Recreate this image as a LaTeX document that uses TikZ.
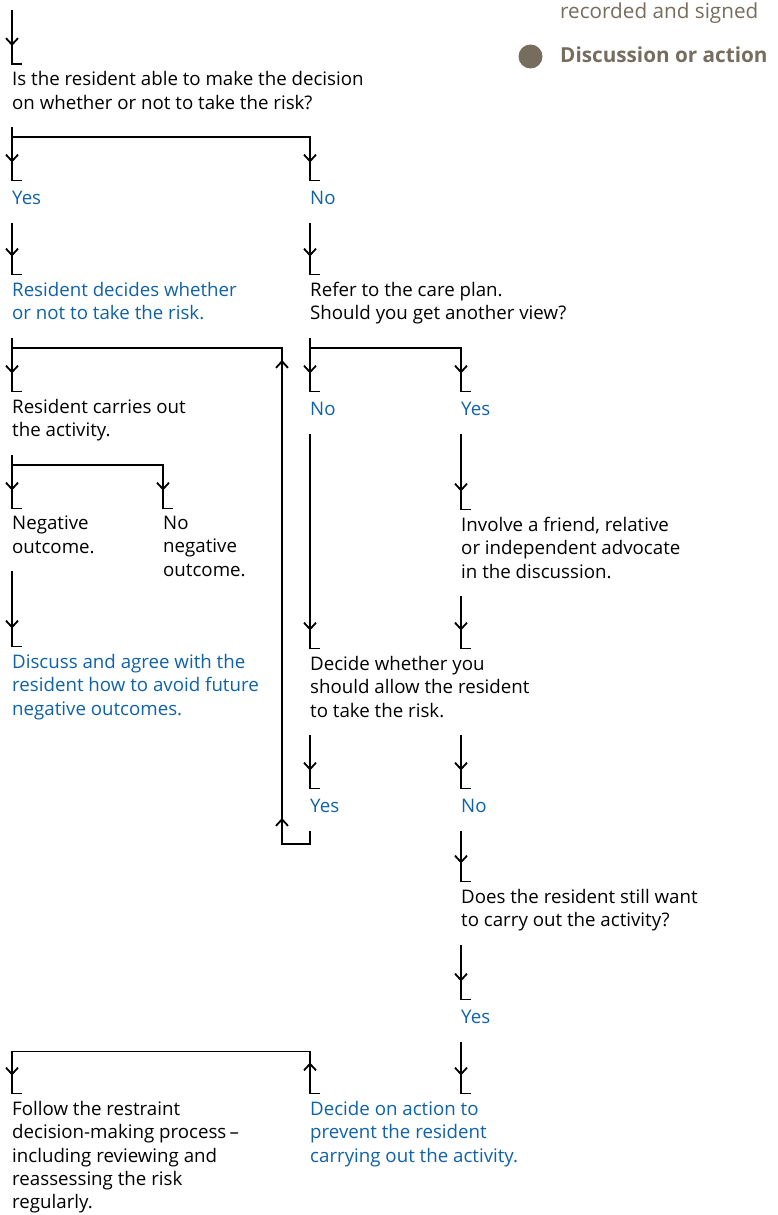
\documentclass[tikz,border=0pt]{standalone}
\usepackage{fontspec}
\setmainfont{Open Sans}
\usetikzlibrary{arrows.meta,decorations.markings}
\definecolor{stepblue}{RGB}{16,98,166}
\definecolor{keygrey}{RGB}{119,109,94}
\tikzset{
  txt/.style={anchor=north west, inner sep=0pt, align=left,
    font=\fontsize{18.7}{23.3}\selectfont,
    execute at begin node=\strut, execute at end node=\strut},
  act/.style={txt, text=stepblue},
  conn/.style={line width=1.8pt},
  barb/.style={postaction={decorate, decoration={markings,
    mark=at position #1 with {\arrow{Straight Barb[length=6.5pt,width=12pt]}}}}},
  barb/.default=-28pt
}
\begin{document}
\begin{tikzpicture}[x=1pt,y=-1pt]
\useasboundingbox (0,0) rectangle (778,1215);

% key
\node[anchor=base west, inner sep=0pt, text=keygrey, font=\fontsize{20.7}{24}\selectfont] (keyrec) at (560,18.5) {recorded and signed};
\node[circle, fill=keygrey, minimum size=24pt, inner sep=0pt] (keydot) at (530.5,56.5) {};
\node[anchor=base west, inner sep=0pt, text=keygrey, font=\fontsize{20.7}{24}\selectfont\bfseries] (keyact) at (560,63) {Discussion or action};

% steps
\node[txt] (able) at (12,71.5) {Is the resident able to make the decision\\on whether or not to take the risk?};
\node[act] (yes1) at (12,188) {Yes};
\node[act] (no1) at (310,188) {No};
\node[act] (rdec) at (12,282) {Resident decides whether\\or not to take the risk.};
\node[txt] (refer) at (310,282) {Refer to the care plan.\\Should you get another view?};
\node[txt] (carry) at (12,399) {Resident carries out\\the activity.};
\node[act] (no2) at (310,399) {No};
\node[act] (yes2) at (461,399) {Yes};
\node[txt] (neg) at (12,516) {Negative\\outcome.};
\node[txt] (noneg) at (163,516) {No\\negative\\outcome.};
\node[txt] (involve) at (461,517) {Involve a friend, relative\\or independent advocate\\in the discussion.};
\node[act] (discuss) at (12,654) {Discuss and agree with the\\resident how to avoid future\\negative outcomes.};
\node[txt] (allow) at (310,656) {Decide whether you\\should allow the resident\\to take the risk.};
\node[act] (yes3) at (310,796) {Yes};
\node[act] (no3) at (461,796) {No};
\node[txt] (still) at (461,889) {Does the resident still want\\to carry out the activity?};
\node[act] (yes4) at (461,1007) {Yes};
\node[txt] (follow) at (12,1101) {Follow the restraint\\decision-making process\,–\\including reviewing and\\reassessing the risk\\regularly.};
\node[act] (prevent) at (310,1101) {Decide on action to\\prevent the resident\\carrying out the activity.};

\coordinate (start) at (12,10);
\coordinate (loop) at ([xshift=-28pt,yshift=-21pt]refer.south west);

% connectors
\draw[conn, barb] (start) -- ([yshift=7.5pt]able.north west) -- ++(10,0);
\draw[conn, barb] ([yshift=-11pt]able.south west) -- ([yshift=7.5pt]yes1.north west) -- ++(10,0);
\draw[conn, barb] ([yshift=-21pt]able.south west) -| ([yshift=7.5pt]no1.north west) -- ++(10,0);
\draw[conn, barb] ([yshift=-11pt]yes1.south west) -- ([yshift=7.5pt]rdec.north west) -- ++(10,0);
\draw[conn, barb] ([yshift=-11pt]no1.south west) -- ([yshift=7.5pt]refer.north west) -- ++(10,0);

\draw[conn, barb] ([yshift=-11pt]rdec.south west) -- ([yshift=7.5pt]carry.north west) -- ++(10,0);
\draw[conn, barb=-282pt, barb=-740pt] ([yshift=-11pt]yes3.south west) -- ++(0,13) -| (loop) -- (loop -| carry.west);
\draw[conn, barb] ([yshift=-11pt]refer.south west) -- ([yshift=7.5pt]no2.north west) -- ++(10,0);
\draw[conn, barb] ([yshift=-21pt]refer.south west) -| ([yshift=7.5pt]yes2.north west) -- ++(10,0);

\draw[conn, barb] ([yshift=-11pt]carry.south west) -- ([yshift=7.5pt]neg.north west) -- ++(10,0);
\draw[conn, barb] ([yshift=-21pt]carry.south west) -| ([yshift=7.5pt]noneg.north west) -- ++(10,0);
\draw[conn, barb] ([yshift=-11pt]neg.south west) -- ([yshift=7.5pt]discuss.north west) -- ++(10,0);

\draw[conn, barb] ([yshift=-11pt]no2.south west) -- ([yshift=7.5pt]allow.north west) -- ++(10,0);
\draw[conn, barb] ([yshift=-11pt]yes2.south west) -- ([yshift=7.5pt]involve.north west) -- ++(10,0);
\draw[conn, barb] ([yshift=-11pt]involve.south west) -- ([yshift=7.5pt]allow.north -| involve.west) -- ++(10,0);

\draw[conn, barb] ([yshift=-11pt]allow.south west) -- ([yshift=7.5pt]yes3.north west) -- ++(10,0);
\draw[conn, barb] ([yshift=-11pt]allow.south -| no3.west) -- ([yshift=7.5pt]no3.north west) -- ++(10,0);
\draw[conn, barb] ([yshift=-11pt]no3.south west) -- ([yshift=7.5pt]still.north west) -- ++(10,0);
\draw[conn, barb] ([yshift=-11pt]still.south west) -- ([yshift=7.5pt]yes4.north west) -- ++(10,0);
\draw[conn, barb] ([yshift=-11pt]yes4.south west) -- ([yshift=7.5pt]prevent.north -| yes4.west) -- ++(10,0);

\draw[conn, barb=41pt, barb] ([xshift=10pt,yshift=7.5pt]prevent.north west) -- ([yshift=7.5pt]prevent.north west) -- ++(0,-42) -| ([yshift=7.5pt]follow.north west) -- ++(10,0);
\end{tikzpicture}
\end{document}
